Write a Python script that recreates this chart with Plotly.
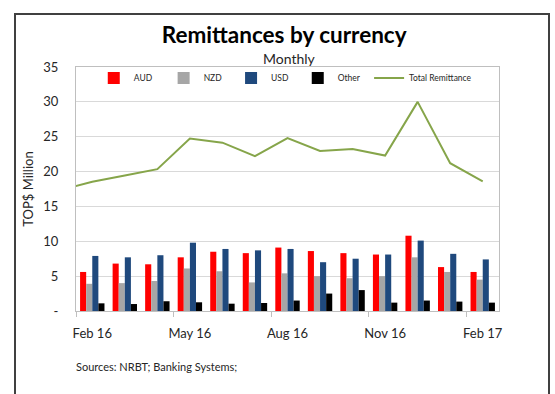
import plotly.graph_objects as go

months = ["Feb 16", "Mar 16", "Apr 16", "May 16", "Jun 16", "Jul 16", "Aug 16",
          "Sep 16", "Oct 16", "Nov 16", "Dec 16", "Jan 17", "Feb 17"]
aud = [5.6, 6.8, 6.7, 7.7, 8.5, 8.3, 9.1, 8.6, 8.3, 8.1, 10.8, 6.3, 5.6]
nzd = [3.9, 4.0, 4.3, 6.1, 5.7, 4.1, 5.4, 5.0, 4.7, 5.0, 7.7, 5.6, 4.5]
usd = [7.9, 7.7, 8.0, 9.8, 8.9, 8.7, 8.9, 7.0, 7.5, 8.1, 10.1, 8.2, 7.4]
other = [1.1, 1.0, 1.4, 1.25, 1.05, 1.15, 1.5, 2.5, 3.0, 1.2, 1.5, 1.35, 1.2]
# total remittance; first value is the preceding month (Jan 16), clipped at the left edge
total_prev = 17.3
total = [18.55, 19.45, 20.35, 24.75, 24.15, 22.2, 24.8, 22.95, 23.25, 22.3, 30.0, 21.2, 18.6]
y_ticks = [0, 5, 10, 15, 20, 25, 30, 35]
y_ticktext = ["-", "5", "10", "15", "20", "25", "30", "35"]
label_months = ["Feb 16", "May 16", "Aug 16", "Nov 16", "Feb 17"]

FONT = "Lato"
NB = "\u00a0"
xs = list(range(len(months)))

fig = go.Figure()
for name, pad, vals, col in [("AUD", 3, aud, "#FF0000"), ("NZD", 2, nzd, "#A6A6A6"),
                             ("USD", 2, usd, "#1F497D"), ("Other", 2, other, "#000000")]:
    fig.add_trace(go.Bar(x=xs, y=vals, name=name + NB * pad,
                         marker=dict(color=col, line=dict(width=0))))

fig.add_trace(go.Scatter(x=[-1] + xs, y=[total_prev] + total, name="Total Remittance",
                         mode="lines", line=dict(color="#86A54A", width=2)))

tickpos = [months.index(m) for m in label_months]

fig.update_layout(
    width=555, height=394,
    margin=dict(l=76, r=56, t=67, b=83),
    paper_bgcolor="white", plot_bgcolor="white",
    barmode="group", bargap=0.25, bargroupgap=0,
    font=dict(family=FONT, color="#262626"),
    title=dict(text="<b>Remittances by currency</b>", x=0.512, xanchor="center",
               y=1 - 35 / 394, yanchor="middle", font=dict(size=22.5, color="#000000", family=FONT)),
    legend=dict(orientation="h", x=0.042, xanchor="left", y=0.955, yanchor="middle",
                font=dict(size=8.5, family=FONT), bgcolor="rgba(0,0,0,0)",
                itemwidth=30, traceorder="normal"),
    showlegend=True,
)

fig.update_xaxes(
    range=[-0.5, len(months) - 0.5],
    tickmode="array", tickvals=tickpos, ticktext=label_months,
    ticks="", tickfont=dict(size=13, color="#262626"),
    showgrid=False, zeroline=False,
    showline=True, linecolor="#BFBFBF", linewidth=1, mirror=True,
    ticklabelstandoff=10,
    minor=dict(tickmode="array", tickvals=[p - 0.5 for p in tickpos], ticks="outside",
               ticklen=5, tickcolor="#BFBFBF", showgrid=False),
)
fig.update_yaxes(
    range=[0, 35], tickmode="array", tickvals=y_ticks, ticktext=y_ticktext,
    tickfont=dict(size=13, color="#262626"),
    showgrid=True, gridcolor="#D9D9D9", gridwidth=1, zeroline=False,
    showline=True, linecolor="#BFBFBF", linewidth=1, mirror=True,
    ticks="", ticklabelstandoff=14,
    title=dict(text="TOP$ Million", font=dict(size=13, color="#262626"), standoff=6),
)

fig.add_annotation(text="Monthly", xref="paper", yref="paper",
                   x=(289 - 76) / 423, y=(311 - 58) / 244, xanchor="center", yanchor="middle",
                   showarrow=False, font=dict(size=14, color="#262626", family=FONT))
fig.add_annotation(text="Sources: NRBT; Banking Systems;", xref="paper", yref="paper",
                   x=(74 - 76) / 423, y=(311 - 366) / 244, xanchor="left", yanchor="middle",
                   showarrow=False, font=dict(size=11, color="#262626", family=FONT))

# outer chart border
fig.add_shape(type="rect", xref="paper", yref="paper",
              x0=(15 - 76) / 423, x1=(549 - 76) / 423,
              y0=(311 - 420) / 244, y1=(311 - 14) / 244,
              line=dict(color="#404040", width=2), fillcolor="rgba(0,0,0,0)", layer="below")

fig.write_html("out.html")
